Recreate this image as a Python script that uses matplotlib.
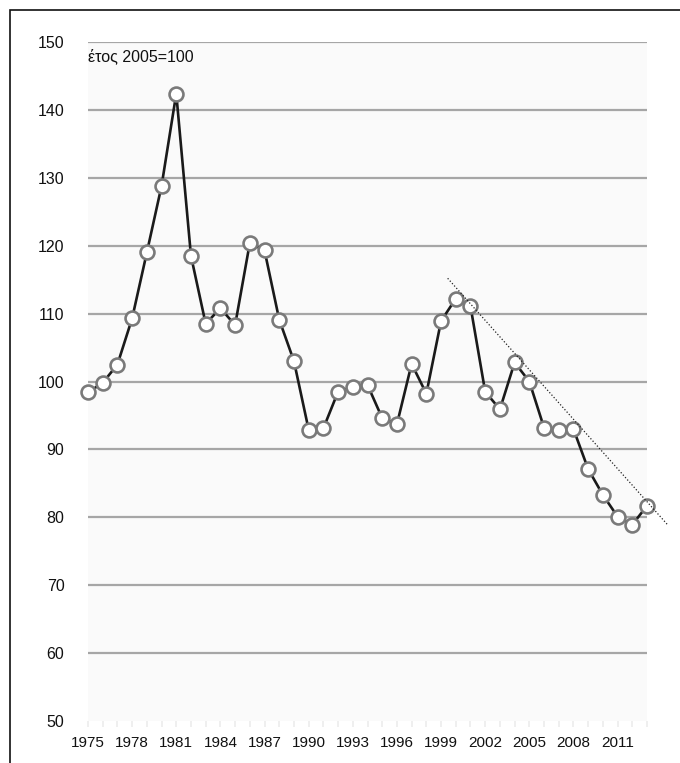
import matplotlib
matplotlib.use("Agg")
import matplotlib.pyplot as plt
from matplotlib.patches import Rectangle

plt.rcParams['font.family'] = ['Liberation Sans', 'DejaVu Sans']

years = list(range(1975, 2014))
values = [98.4, 99.8, 102.5, 109.3, 119.0, 128.8, 142.4, 118.5, 108.5, 110.8,
          108.3, 120.4, 119.3, 109.1, 103.0, 92.9, 93.1, 98.5, 99.2, 99.5,
          94.6, 93.7, 102.6, 98.2, 108.9, 112.2, 111.1, 98.5, 95.9, 102.8,
          100.0, 93.2, 92.9, 93.0, 87.1, 83.3, 80.1, 78.9, 81.7]
trend_years = [1999.45, 2014.4]
trend_values = [115.2, 78.9]
xtick_years = list(range(1975, 2012, 3))
ytick_values = list(range(50, 151, 10))
annotation = "έτος 2005=100"

W, H = 680, 763
fig = plt.figure(figsize=(W / 100, H / 100), dpi=100)
fig.patch.set_facecolor('white')

# outer chart border
fig.add_artist(Rectangle((10 / W, -0.02), 1.05, 1 - 9.5 / H + 0.02,
                         transform=fig.transFigure, fill=False,
                         edgecolor='#111111', linewidth=1.2, clip_on=False))

ax = fig.add_axes([88 / W, 1 - 721 / H, (647 - 88) / W, (721 - 42) / H])
ax.set_facecolor('#fafafa')
ax.set_xlim(1975, 2013)
ax.set_ylim(50, 150)

for v in ytick_values[1:]:
    ax.axhline(v, color='#a6a6a6', linewidth=1.6, zorder=1)

ax.plot(trend_years, trend_values, linestyle=(0, (1, 1.6)), color='#222222',
        linewidth=0.9, zorder=4, clip_on=False)

ax.plot(years, values, color='#1a1a1a', linewidth=1.9, zorder=2,
        marker='o', markersize=10, markerfacecolor='white',
        markeredgecolor='#7a7a7a', markeredgewidth=1.9, clip_on=False)

for s in ax.spines.values():
    s.set_visible(False)

ax.set_yticks(ytick_values)
ax.set_yticklabels([str(v) for v in ytick_values], fontsize=11.5, color='#111111')
ax.tick_params(axis='y', length=0, pad=17)

ax.set_xticks(years, minor=True)
ax.set_xticks(xtick_years)
ax.set_xticklabels([str(y) for y in xtick_years], fontsize=11, color='#111111')
ax.tick_params(axis='x', which='both', length=4, color='#ececec', width=1.2,
               direction='out', pad=7)

ax.text(1974.98, 149.0, annotation, fontsize=11.5, color='#111111',
        ha='left', va='top')

fig.savefig('out.png', dpi=100, facecolor='white')
